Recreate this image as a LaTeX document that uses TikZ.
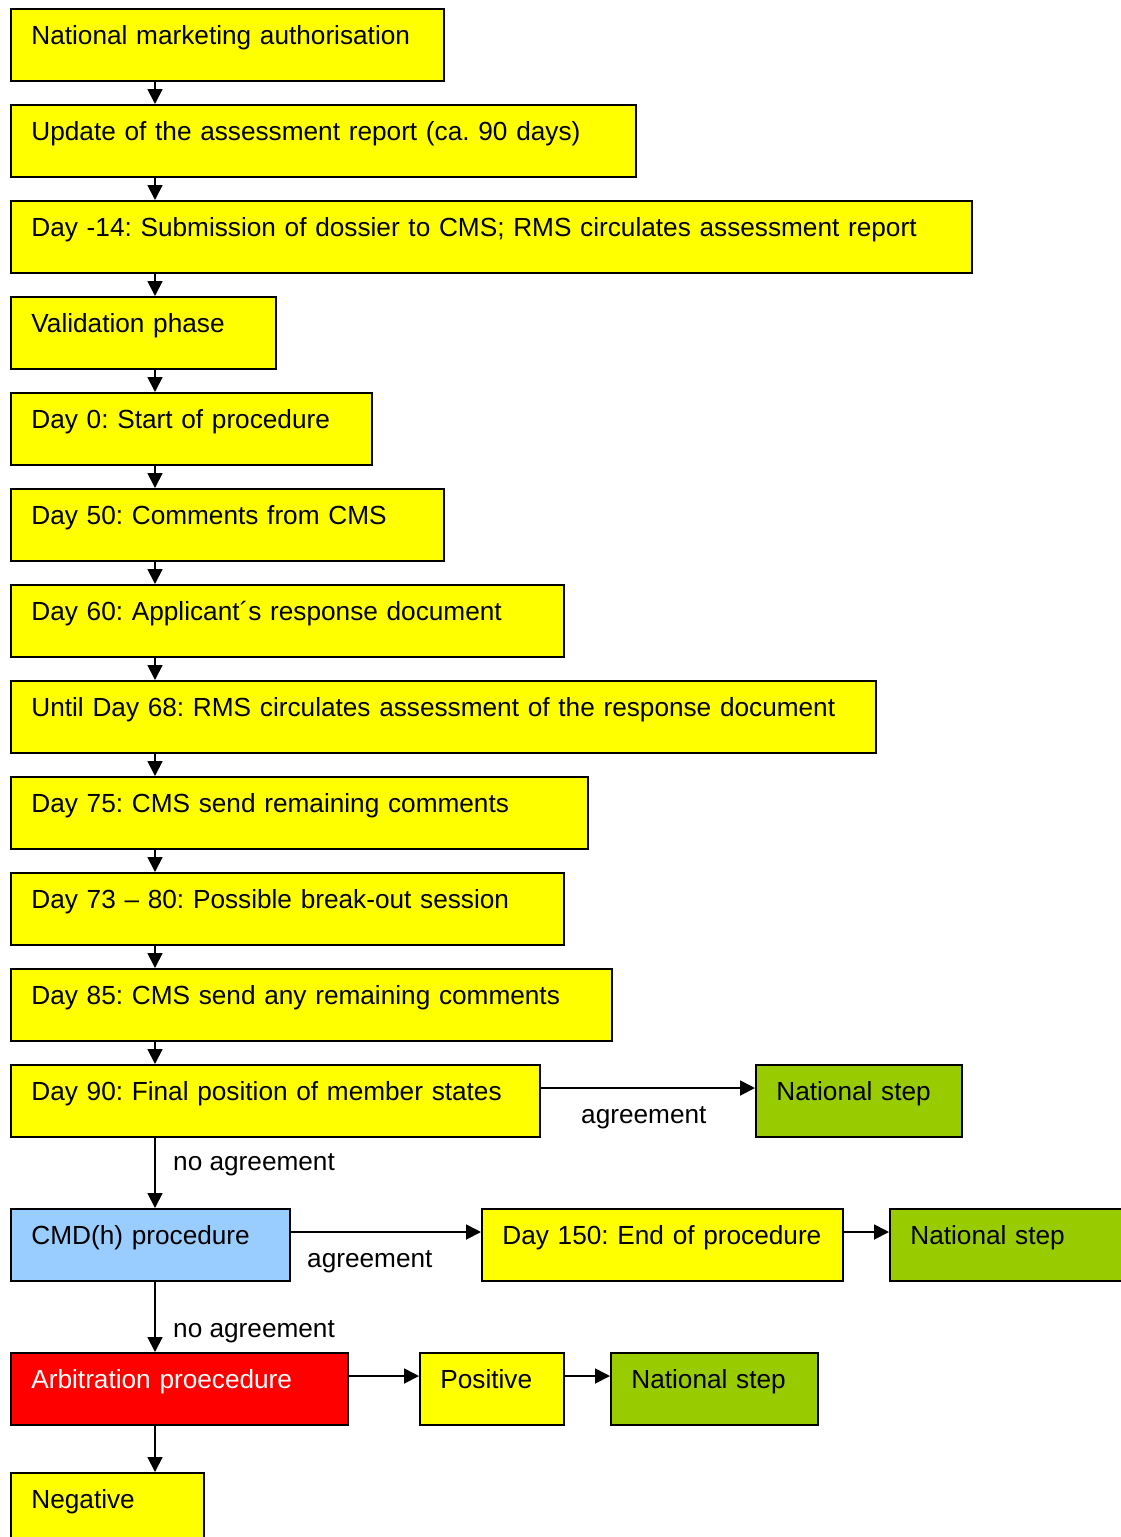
\documentclass[tikz,border=0pt]{standalone}
\usepackage{fontspec}
\setmainfont{Liberation Sans}
\usetikzlibrary{arrows.meta,calc}
\definecolor{yel}{HTML}{FFFF00}
\definecolor{grn}{HTML}{99CC00}
\definecolor{blu}{HTML}{99CCFF}
\definecolor{rd}{HTML}{FF0000}
\tikzset{
  stepbox/.style={draw=black, line width=1.8pt, anchor=north west, inner xsep=20.5pt, inner ysep=0pt,
    text height=36pt, text depth=36pt, align=left, font=\fontsize{26.2pt}{30pt}\selectfont,
    execute at begin node={\frenchspacing\hyphenpenalty=10000}},
  lbl/.style={anchor=base west, inner sep=0pt, font=\fontsize{26.2pt}{30pt}\selectfont},
  arr/.style={line width=1.8pt, -{Triangle[length=15pt,width=15pt]}}
}
\begin{document}
\begin{tikzpicture}[x=1pt,y=-1pt]
\useasboundingbox (0,0) rectangle (1121,1537);
\clip (0,0) rectangle (1121,1537);
\fill[white] (0,0) rectangle (1121,1537);
\node[stepbox, fill=yel, text width=392pt] (n1) at (10,8) {National marketing authorisation};
\node[stepbox, fill=yel, text width=584pt] (n2) at (10,104) {Update of the assessment report (ca. 90 days)};
\node[stepbox, fill=yel, text width=920pt] (n3) at (10,200) {Day -14: Submission of dossier to CMS; RMS circulates assessment report};
\node[stepbox, fill=yel, text width=224pt] (n4) at (10,296) {Validation phase};
\node[stepbox, fill=yel, text width=320pt] (n5) at (10,392) {Day 0: Start of procedure};
\node[stepbox, fill=yel, text width=392pt] (n6) at (10,488) {Day 50: Comments from CMS};
\node[stepbox, fill=yel, text width=512pt] (n7) at (10,584) {Day 60: Applicant´s response document};
\node[stepbox, fill=yel, text width=824pt] (n8) at (10,680) {Until Day 68: RMS circulates assessment of the response document};
\node[stepbox, fill=yel, text width=536pt] (n9) at (10,776) {Day 75: CMS send remaining comments};
\node[stepbox, fill=yel, text width=512pt] (n10) at (10,872) {Day 73 – 80: Possible break-out session};
\node[stepbox, fill=yel, text width=560pt] (n11) at (10,968) {Day 85: CMS send any remaining comments};
\node[stepbox, fill=yel, text width=488pt] (n12) at (10,1064) {Day 90: Final position of member states};
\node[stepbox, fill=grn, text width=165pt] (ns1) at (755,1064) {National step};
\node[stepbox, fill=blu, text width=238pt] (cmd) at (10,1208) {CMD(h) procedure};
\node[stepbox, fill=yel, text width=320pt] (d150) at (481,1208) {\mbox{Day 150: End of procedure}};
\node[stepbox, fill=grn, text width=200pt] (ns2) at (889,1208) {National step};
\node[stepbox, fill=rd, text=white, text width=296pt] (arb) at (10,1352) {Arbitration proecedure};
\node[stepbox, fill=yel, text width=103pt] (pos) at (419,1352) {Positive};
\node[stepbox, fill=grn, text width=166pt] (ns3) at (610,1352) {National step};
\node[stepbox, fill=yel, text width=152pt] (neg) at (10,1472) {Negative};
\foreach \a/\b in {n1/n2,n2/n3,n3/n4,n4/n5,n5/n6,n6/n7,n7/n8,n8/n9,n9/n10,n10/n11,n11/n12,n12/cmd,cmd/arb,arb/neg}
  \draw[arr] ($(\a.south west)+(145,0)$) -- ($(\b.north west)+(145,0)$);
\draw[arr] ($(n12.north east)+(0,24)$) -- ($(ns1.north west)+(0,24)$);
\draw[arr] ($(cmd.north east)+(0,24)$) -- ($(d150.north west)+(0,24)$);
\draw[arr] ($(d150.north east)+(0,24)$) -- ($(ns2.north west)+(0,24)$);
\draw[arr] ($(arb.north east)+(0,24)$) -- ($(pos.north west)+(0,24)$);
\draw[arr] ($(pos.north east)+(0,24)$) -- ($(ns3.north west)+(0,24)$);
\node[lbl] (l1) at (581,1123) {agreement};
\node[lbl] (l2) at (173,1170) {no agreement};
\node[lbl] (l3) at (307,1267) {agreement};
\node[lbl] (l4) at (173,1337) {no agreement};
\end{tikzpicture}
\end{document}
